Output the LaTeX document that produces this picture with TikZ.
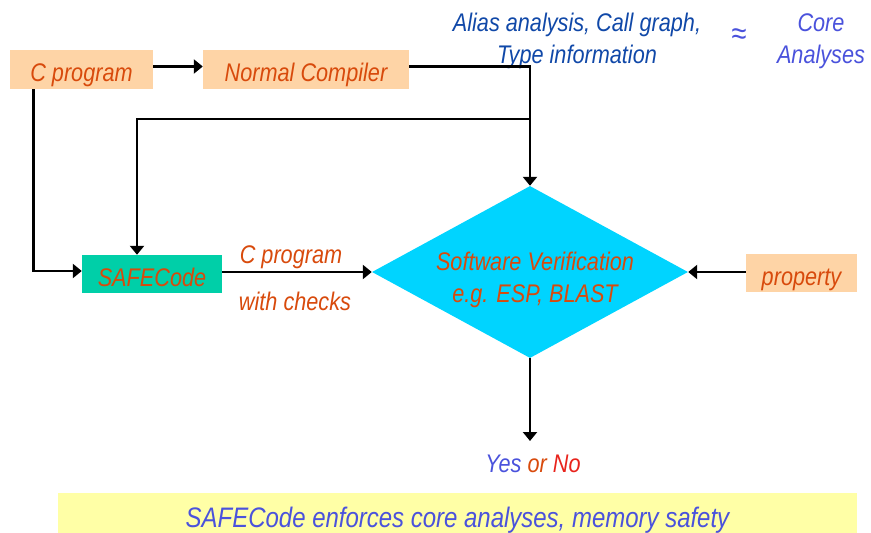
\documentclass[tikz,border=0pt]{standalone}
\usepackage{fontspec}
\setmainfont{Liberation Sans}[FakeStretch=0.85]
\usetikzlibrary{shapes.geometric,arrows.meta}
\definecolor{peach}{HTML}{FED4A6}
\definecolor{teal2}{HTML}{00CFA8}
\definecolor{cyan2}{HTML}{00D4FF}
\definecolor{yel}{HTML}{FFFFA6}
\definecolor{orangetxt}{HTML}{D84A0C}
\definecolor{darkblue}{HTML}{1048A8}
\definecolor{lightblue}{HTML}{4A52DC}
\definecolor{redtxt}{HTML}{E8231C}
\begin{document}
\begin{tikzpicture}[x=1pt,y=-1pt,
  txt/.style={font=\fontsize{25.5}{32}\selectfont\itshape, inner sep=0pt},
  boxbase/.style={txt, text=orangetxt, text height=24pt, text depth=0pt, inner sep=0pt},
  pbox/.style={boxbase, fill=peach},
  sbox/.style={boxbase, fill=teal2},
  conn/.style={line width=2.9pt, -{Triangle[length=9pt,width=14pt]}}]
\useasboundingbox (0,0) rectangle (871,533);

% boxes
\node[pbox, minimum width=143pt, minimum height=39pt] (cprog) at (81.5,69.5) {C program};
\node[pbox, minimum width=206pt, minimum height=39pt] (ncomp) at (306,69.5) {Normal Compiler};
\node[sbox, minimum width=140pt, minimum height=38pt] (safe) at (152,274) {SAFECode};
\node[pbox, minimum width=111pt, minimum height=38pt] (prop) at (801.5,273) {property};
\node[diamond, fill=cyan2, minimum width=316pt, minimum height=172pt, inner sep=0pt] (dia) at (530,272) {};
\node[txt, text=orangetxt, align=center] (dtext) at (535,280) {Software Verification\\e.g. ESP, BLAST};

% top texts
\node[txt, text=darkblue, align=center] (alias) at (577,41) {Alias analysis, Call graph,\\Type information};
\node[txt, text=lightblue, font=\fontsize{32}{32}\selectfont] (approx) at (739,37) {≈};
\node[txt, text=lightblue, align=center] (core) at (821,41) {Core\\Analyses};

% labels
\node[txt, text=orangetxt, anchor=base] (lbla) at (291,263) {C program};
\node[txt, text=orangetxt, anchor=base] (lblb) at (295,310) {with checks};
\node[txt, anchor=base] (yesno) at (533,472) {\textcolor{lightblue}{Yes} \textcolor{orangetxt}{or} \textcolor{redtxt}{No}};

% bottom banner
\node[fill=yel, minimum width=799pt, minimum height=40pt, inner sep=0pt, text=lightblue,
      font=\fontsize{28.2}{34}\selectfont\itshape, text height=28pt, text depth=0pt] (banner) at (457.5,513)
      {SAFECode enforces core analyses, memory safety};

% connectors
\coordinate (junc) at (530,119);
\coordinate (yn) at (530,441);
\draw[conn] ([yshift=3pt]cprog.east) -- ([yshift=3pt]ncomp.west);
\draw[conn] ([yshift=3pt]ncomp.east) -| (dia.north);
\draw[conn] (junc) -| ([xshift=-15pt]safe.north);
\draw[conn] ([xshift=-48pt]cprog.south) |- ([yshift=3pt]safe.west);
\draw[conn] (safe.east |- dia.west) -- (dia.west);
\draw[conn] (prop.west |- dia.east) -- (dia.east);
\draw[conn] (dia.south) -- (yn);
\end{tikzpicture}
\end{document}
